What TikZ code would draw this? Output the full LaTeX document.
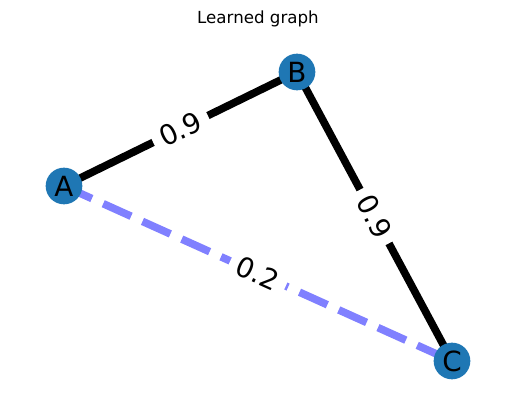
\documentclass[tikz,border=0pt]{standalone}
\usepackage{fontspec}
\setmainfont{DejaVu Sans}
\usetikzlibrary{backgrounds}
\definecolor{nodeblue}{RGB}{31,119,180}
\definecolor{weakblue}{RGB}{128,128,255}

\begin{document}
\begin{tikzpicture}[x=0.72pt,y=-0.72pt,
  vertex/.style={circle,fill=nodeblue,minimum size=26.4pt,inner sep=0pt,font=\fontsize{20}{24}\selectfont},
  strong/.style={line width=5.5pt,black},
  weak/.style={line width=5.5pt,weakblue,dash pattern=on 22pt off 9pt},
  weight/.style={fill=white,text=black,rounded corners=6pt,inner xsep=6pt,inner ysep=3pt,sloped,font=\fontsize{20}{24}\selectfont}]

\useasboundingbox (0,0) rectangle (515,411);
\node (title) at (258,24)[anchor=base,font=\fontsize{12}{14}\selectfont] {Learned graph};

\node (A) at (64,186)[vertex] {A};
\node (B) at (297,72)[vertex] {B};
\node (C) at (452,361)[vertex] {C};

\begin{pgfonlayer}{background}
\draw [strong] (A.center) to node[weight] {0.9} (B.center);
\draw [strong] (B.center) to node[weight] {0.9} (C.center);
\draw [weak] (A.center) to node[weight] {0.2} (C.center);
\end{pgfonlayer}
\end{tikzpicture}
\end{document}
